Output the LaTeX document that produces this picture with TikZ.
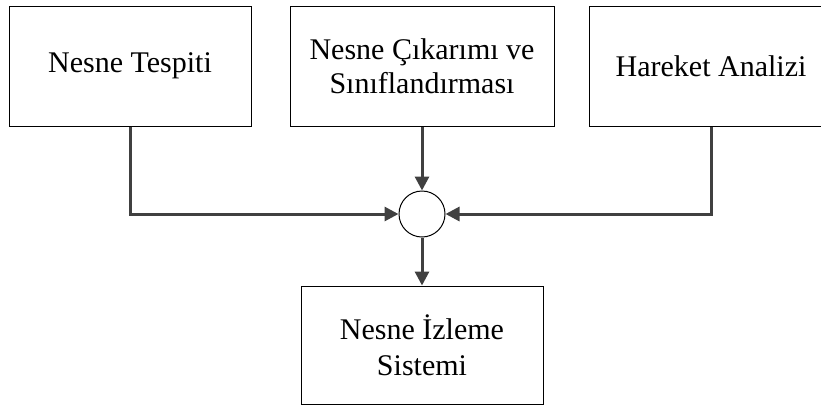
\documentclass[tikz,border=0pt]{standalone}
\usepackage{fontspec}
\setmainfont{Liberation Serif}
\usetikzlibrary{arrows.meta}
\begin{document}
\begin{tikzpicture}[x=1pt,y=-1pt,
  blockbox/.style={draw=black,line width=1pt,fill=white,align=center,
    font=\fontsize{30}{34}\selectfont,inner sep=0pt},
  joint/.style={circle,draw=black,line width=1pt,minimum size=46pt,inner sep=0pt},
  link/.style={draw=black!75,line width=3pt,
    -{Triangle[length=14pt,width=14pt]}}]
  \useasboundingbox (0,0) rectangle (821,405);
  \begin{scope}
    \clip (0,0) rectangle (821,405);
    \node[blockbox,minimum width=242pt,minimum height=120pt] (det) at (130,66) {Nesne Tespiti};
    \node[blockbox,minimum width=264pt,minimum height=120pt] (cls) at (422,66) {Nesne Çıkarımı ve\\Sınıflandırması};
    \node[blockbox,minimum width=244pt,minimum height=120pt] (mot) at (711,66) {Hareket Analizi};
    \node[joint] (sum) at (422,214) {};
    \node[blockbox,minimum width=242pt,minimum height=118pt,
      font=\fontsize{30}{36}\selectfont] (trk) at (422,345) {Nesne İzleme\\Sistemi};
  \end{scope}
  \draw[link] (det.south) |- (sum.west);
  \draw[link] (cls.south) -- (sum.north);
  \draw[link] (mot.south) |- (sum.east);
  \draw[link] (sum.south) -- (trk.north);
\end{tikzpicture}
\end{document}
